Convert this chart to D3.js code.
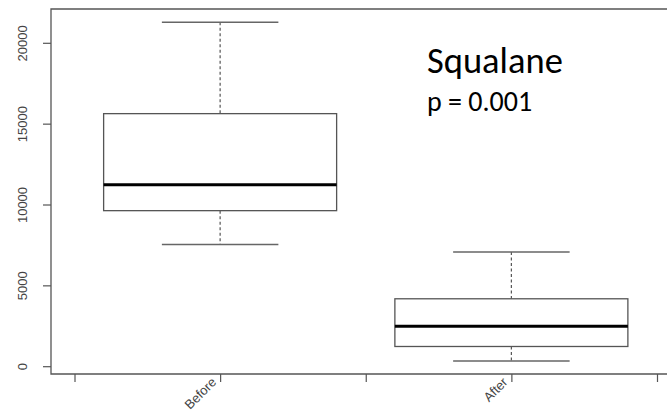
<!DOCTYPE html>
<html>
<head>
<meta charset="utf-8">
<script src="https://cdn.jsdelivr.net/npm/d3@7"></script>
<style>
  html, body { margin: 0; padding: 0; background: #fff; }
  svg { display: block; }
</style>
</head>
<body>
<svg id="chart" width="667" height="411"></svg>
<script>
const categories = ["Before", "After"];
const whiskerLow = [7550, 350];
const q1 = [9650, 1250];
const median = [11250, 2500];
const q3 = [15650, 4200];
const whiskerHigh = [21300, 7100];
const yTicks = [0, 5000, 10000, 15000, 20000];
const xTickPositions = [0.5, 1, 1.5, 2, 2.5];
const title = "Squalane";
const pText = "p = 0.001";

const svg = d3.select("#chart");
const W = 667, H = 411;
const frameLeft = 51, frameTop = 9, frameBottom = 374;

const x = d3.scaleLinear().domain([0.5, 2.5]).range([74.5, 657]);
const y = d3.scaleLinear().domain([0, 20000]).range([366.7, 43.3]);

const gray = "#555";

// frame (left, top, bottom)
svg.append("path")
  .attr("d", `M${W + 2},${frameTop}H${frameLeft}V${frameBottom}H${W + 2}`)
  .attr("fill", "none").attr("stroke", gray).attr("stroke-width", 1.3);

// y axis
const yAxis = svg.append("g")
  .attr("transform", `translate(${frameLeft},0)`)
  .call(d3.axisLeft(y).tickValues(yTicks).tickSize(8).tickSizeOuter(0).tickFormat(d3.format("d")));
yAxis.select(".domain").remove();
yAxis.selectAll(".tick").attr("transform", null);
yAxis.selectAll(".tick line").each(function(d) {
  d3.select(this).attr("y1", y(d)).attr("y2", y(d));
}).attr("stroke", gray).attr("stroke-width", 1.2);
yAxis.selectAll(".tick text")
  .attr("dx", null).attr("dy", null)
  .attr("y", -24)
  .attr("text-anchor", "middle")
  .attr("font-family", "Liberation Sans, Arial, sans-serif")
  .attr("font-size", 13)
  .attr("fill", "#444")
  .each(function(d) {
    d3.select(this).attr("x", -y(d)).attr("transform", "rotate(-90)");
  });

// x axis ticks
const xAxis = svg.append("g")
  .attr("transform", `translate(0,${frameBottom})`)
  .call(d3.axisBottom(x).tickValues(xTickPositions).tickSize(8).tickSizeOuter(0).tickFormat(""));
xAxis.select(".domain").remove();
xAxis.selectAll("line").attr("stroke", gray).attr("stroke-width", 1.2);

// category labels, rotated
svg.append("g").selectAll("text")
  .data(categories)
  .join("text")
  .attr("transform", (d, i) => `translate(${x(i + 1) - 3},${frameBottom + 9}) rotate(-45)`)
  .attr("text-anchor", "end")
  .attr("font-family", "Liberation Sans, Arial, sans-serif")
  .attr("font-size", 13)
  .attr("fill", "#444")
  .text(d => d);

// boxes
const boxHalf = 0.4, capHalf = 0.2;
const g = svg.append("g");
categories.forEach((c, i) => {
  const cx = x(i + 1);
  const bw = x(1 + boxHalf) - x(1);
  const cw = x(1 + capHalf) - x(1);
  g.append("line").attr("x1", cx).attr("x2", cx).attr("y1", y(whiskerHigh[i])).attr("y2", y(q3[i]))
    .attr("stroke", gray).attr("stroke-width", 1.2).attr("stroke-dasharray", "3,2.5");
  g.append("line").attr("x1", cx).attr("x2", cx).attr("y1", y(q1[i])).attr("y2", y(whiskerLow[i]))
    .attr("stroke", gray).attr("stroke-width", 1.2).attr("stroke-dasharray", "3,2.5");
  [whiskerHigh[i], whiskerLow[i]].forEach(v => {
    g.append("line").attr("x1", cx - cw).attr("x2", cx + cw).attr("y1", y(v)).attr("y2", y(v))
      .attr("stroke", "#666").attr("stroke-width", 1.5);
  });
  g.append("rect").attr("x", cx - bw).attr("width", 2 * bw)
    .attr("y", y(q3[i])).attr("height", y(q1[i]) - y(q3[i]))
    .attr("fill", "#fff").attr("stroke", gray).attr("stroke-width", 1.3);
  g.append("line").attr("x1", cx - bw).attr("x2", cx + bw).attr("y1", y(median[i])).attr("y2", y(median[i]))
    .attr("stroke", "#000").attr("stroke-width", 3);
});

// annotation
svg.append("text")
  .attr("x", 427).attr("y", 73)
  .attr("font-family", "Carlito, 'Noto Sans', 'Open Sans', sans-serif")
  .attr("font-size", 36.5)
  .attr("fill", "#000")
  .text(title);
svg.append("text")
  .attr("x", 427).attr("y", 111)
  .attr("font-family", "Carlito, 'Noto Sans', 'Open Sans', sans-serif")
  .attr("font-size", 28)
  .attr("fill", "#000")
  .text(pText);
</script>
</body>
</html>
